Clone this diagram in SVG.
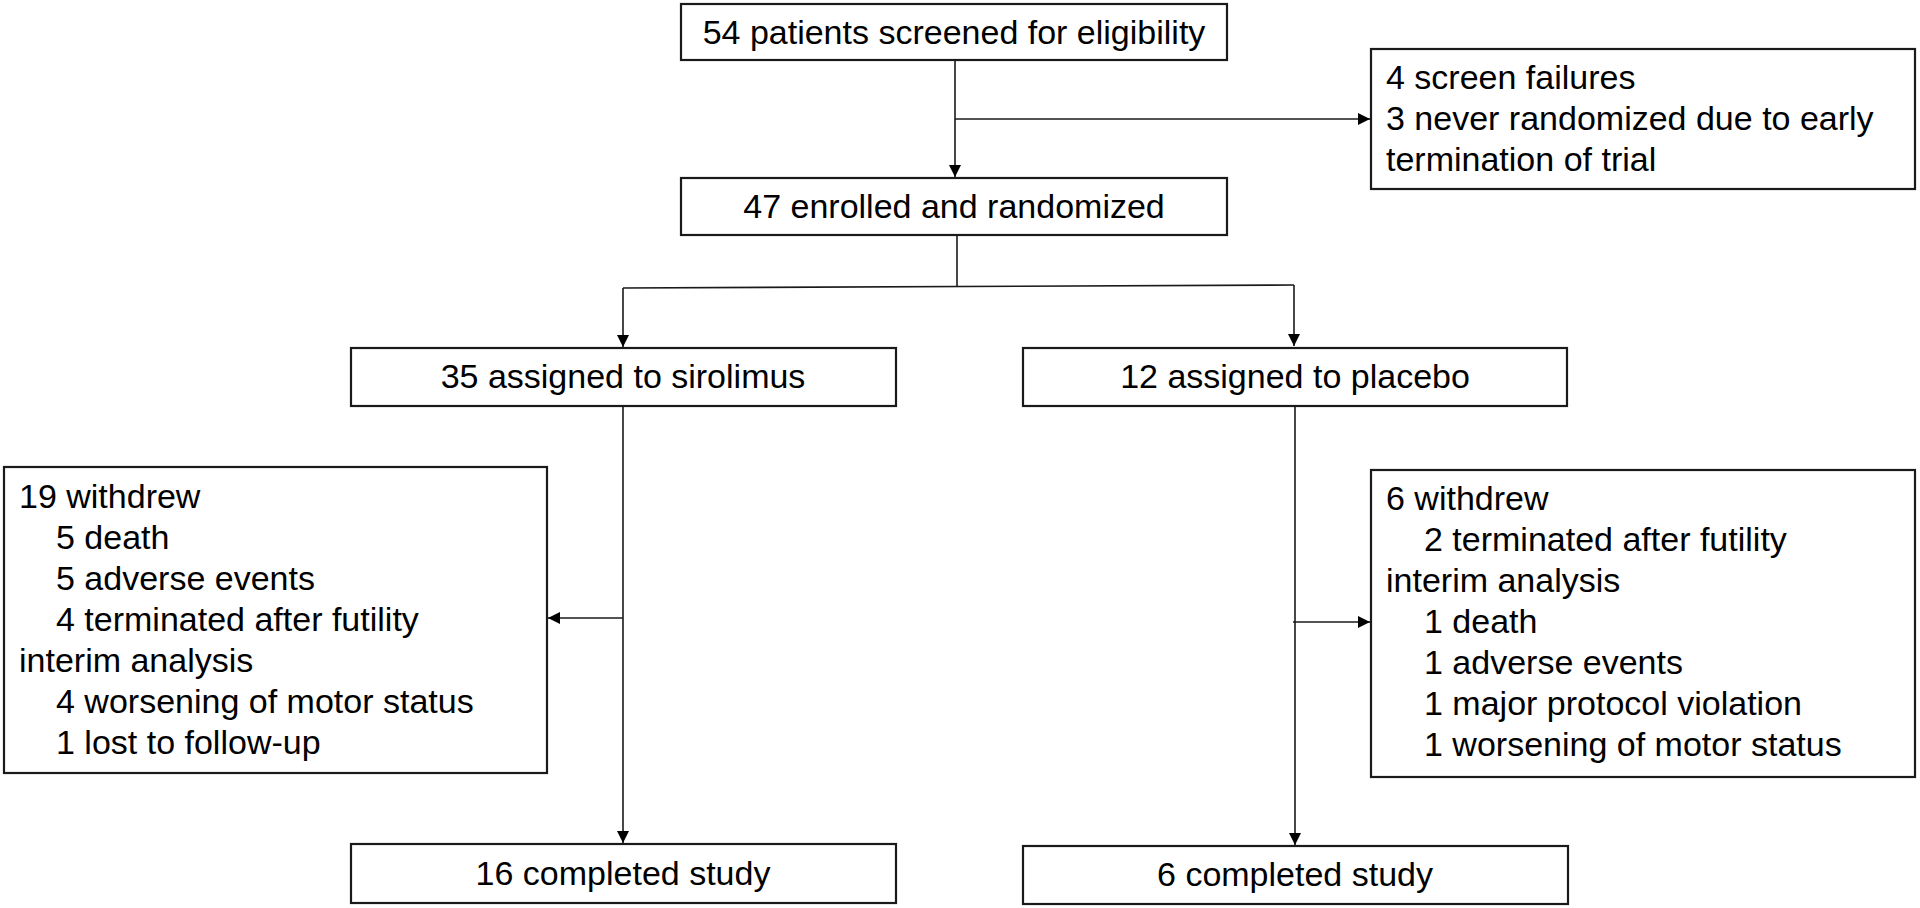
<svg xmlns="http://www.w3.org/2000/svg" width="1920" height="908" viewBox="0 0 1920 908">
<style>
  .box{fill:#fff;stroke:#1a1a1a;stroke-width:2.2}
  .t{font-family:"Liberation Sans",Arial,sans-serif;font-size:34px;fill:#000}
  .c{text-anchor:middle}
  .ln{fill:none;stroke:#1a1a1a;stroke-width:1.6}
</style>
<defs>
  <marker id="ah" markerUnits="userSpaceOnUse" markerWidth="13" markerHeight="12" refX="12" refY="6" orient="auto">
    <path d="M0,0 L12,6 L0,12 z" fill="#000"/>
  </marker>
</defs>
<rect width="1920" height="908" fill="#fff"/>
<g id="connectors">
  <line class="ln" x1="955" y1="60" x2="955" y2="177" marker-end="url(#ah)"/>
  <line class="ln" x1="955" y1="119" x2="1370" y2="119" marker-end="url(#ah)"/>
  <line class="ln" x1="957" y1="235" x2="957" y2="287"/>
  <line class="ln" x1="623" y1="288" x2="1294" y2="285"/>
  <line class="ln" x1="623" y1="288" x2="623" y2="347" marker-end="url(#ah)"/>
  <line class="ln" x1="1294" y1="285" x2="1294" y2="346" marker-end="url(#ah)"/>
  <line class="ln" x1="623" y1="406" x2="623" y2="843" marker-end="url(#ah)"/>
  <line class="ln" x1="623" y1="618" x2="548" y2="618" marker-end="url(#ah)"/>
  <line class="ln" x1="1295" y1="406" x2="1295" y2="845" marker-end="url(#ah)"/>
  <line class="ln" x1="1293" y1="622" x2="1370" y2="622" marker-end="url(#ah)"/>
</g>
<g id="screened">
  <rect class="box" x="681" y="4" width="546" height="56"/>
  <text class="t c" x="954" y="44">54 patients screened for eligibility</text>
</g>
<g id="excluded">
  <rect class="box" x="1371" y="49" width="544" height="140"/>
  <text class="t" x="1386" y="89">4 screen failures</text>
  <text class="t" x="1386" y="130">3 never randomized due to early</text>
  <text class="t" x="1386" y="171">termination of trial</text>
</g>
<g id="randomized">
  <rect class="box" x="681" y="178" width="546" height="57"/>
  <text class="t c" x="954" y="218">47 enrolled and randomized</text>
</g>
<g id="sirolimus">
  <rect class="box" x="351" y="348" width="545" height="58"/>
  <text class="t c" x="623" y="388">35 assigned to sirolimus</text>
</g>
<g id="placebo">
  <rect class="box" x="1023" y="348" width="544" height="58"/>
  <text class="t c" x="1295" y="388">12 assigned to placebo</text>
</g>
<g id="withdrew-sirolimus">
  <rect class="box" x="4" y="467" width="543" height="306"/>
  <text class="t" x="19" y="508">19 withdrew</text>
  <text class="t" x="56" y="549">5 death</text>
  <text class="t" x="56" y="590">5 adverse events</text>
  <text class="t" x="56" y="631">4 terminated after futility</text>
  <text class="t" x="19" y="672">interim analysis</text>
  <text class="t" x="56" y="713">4 worsening of motor status</text>
  <text class="t" x="56" y="754">1 lost to follow-up</text>
</g>
<g id="withdrew-placebo">
  <rect class="box" x="1371" y="470" width="544" height="307"/>
  <text class="t" x="1386" y="510">6 withdrew</text>
  <text class="t" x="1424" y="551">2 terminated after futility</text>
  <text class="t" x="1386" y="592">interim analysis</text>
  <text class="t" x="1424" y="633">1 death</text>
  <text class="t" x="1424" y="674">1 adverse events</text>
  <text class="t" x="1424" y="715">1 major protocol violation</text>
  <text class="t" x="1424" y="756">1 worsening of motor status</text>
</g>
<g id="completed-sirolimus">
  <rect class="box" x="351" y="844" width="545" height="59"/>
  <text class="t c" x="623" y="885">16 completed study</text>
</g>
<g id="completed-placebo">
  <rect class="box" x="1023" y="846" width="545" height="58"/>
  <text class="t c" x="1295" y="886">6 completed study</text>
</g>
</svg>
